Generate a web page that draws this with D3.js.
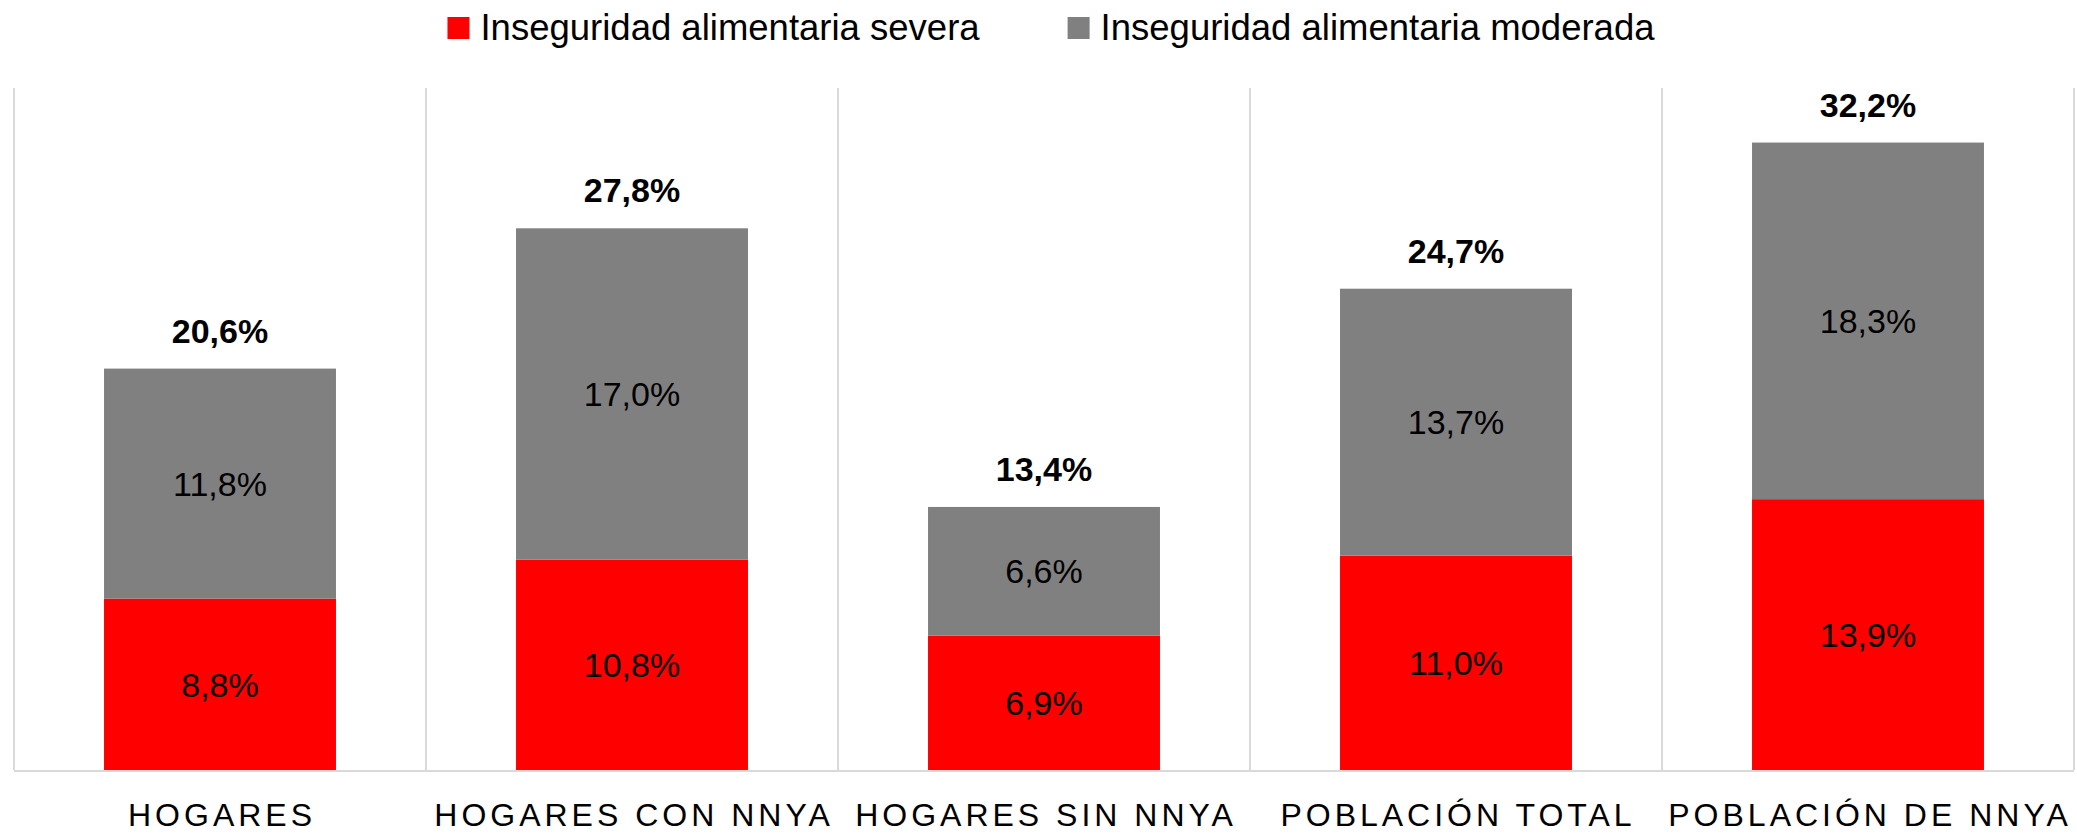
<!DOCTYPE html>
<html>
<head>
<meta charset="utf-8">
<script src="https://cdn.jsdelivr.net/npm/d3@7"></script>
<style>
  html, body { margin: 0; padding: 0; background: #fff; }
  svg { display: block; font-family: "Liberation Sans", Arial, sans-serif; }
</style>
</head>
<body>
<div id="chart"></div>
<script>
// data
const categories = ["HOGARES", "HOGARES CON NNYA", "HOGARES SIN NNYA", "POBLACIÓN TOTAL", "POBLACIÓN DE NNYA"];
const severa = [8.8, 10.8, 6.9, 11.0, 13.9];
const moderada = [11.8, 17.0, 6.6, 13.7, 18.3];
const totales = [20.6, 27.8, 13.4, 24.7, 32.2];
const seriesNames = ["Inseguridad alimentaria severa", "Inseguridad alimentaria moderada"];
const seriesColors = ["#ff0000", "#808080"];

const width = 2077, height = 834;
const fmt = v => d3.format(".1f")(v).replace(".", ",") + "%";

const svg = d3.select("#chart").append("svg")
  .attr("width", width)
  .attr("height", height);

// scales
const x = d3.scaleBand()
  .domain(categories)
  .range([14, 2074])
  .paddingInner(0.437)
  .paddingOuter(0.2185);

const y = d3.scaleLinear()
  .domain([0, 35])
  .range([770, 88]);

const step = x.step();
const x0 = x.range()[0];

// vertical separators between categories
svg.append("g")
  .selectAll("line")
  .data(d3.range(categories.length + 1))
  .enter()
  .append("line")
  .attr("x1", i => x0 + i * step)
  .attr("x2", i => x0 + i * step)
  .attr("y1", y(35))
  .attr("y2", y(0))
  .style("stroke", "#d9d9d9")
  .style("stroke-width", 2);

// stack the two series
const rows = categories.map((c, i) => ({ cat: c, severa: severa[i], moderada: moderada[i] }));
const stack = d3.stack().keys(["severa", "moderada"])(rows);

const layers = svg.append("g")
  .selectAll("g")
  .data(stack)
  .enter()
  .append("g")
  .style("fill", (d, i) => seriesColors[i]);

layers.selectAll("rect")
  .data(d => d)
  .enter()
  .append("rect")
  .attr("x", d => x(d.data.cat))
  .attr("width", x.bandwidth())
  .attr("y", d => y(d[1]))
  .attr("height", d => y(d[0]) - y(d[1]));

// segment labels
layers.selectAll("text")
  .data(d => d)
  .enter()
  .append("text")
  .attr("x", d => x(d.data.cat) + x.bandwidth() / 2)
  .attr("y", d => (y(d[0]) + y(d[1])) / 2)
  .attr("dy", "0.36em")
  .attr("text-anchor", "middle")
  .style("fill", "#000")
  .style("font-size", "34px")
  .text(d => fmt(d[1] - d[0]));

// totals above bars
svg.append("g")
  .selectAll("text")
  .data(categories)
  .enter()
  .append("text")
  .attr("x", d => x(d) + x.bandwidth() / 2)
  .attr("y", (d, i) => y(severa[i] + moderada[i]) - 26)
  .attr("text-anchor", "middle")
  .style("font-size", "34px")
  .style("font-weight", "bold")
  .text((d, i) => fmt(totales[i]));

// baseline
svg.append("line")
  .attr("x1", x0)
  .attr("x2", x0 + step * categories.length)
  .attr("y1", y(0) + 1)
  .attr("y2", y(0) + 1)
  .style("stroke", "#d9d9d9")
  .style("stroke-width", 2);

// category labels
svg.append("g")
  .selectAll("text")
  .data(categories)
  .enter()
  .append("text")
  .attr("x", d => x(d) + x.bandwidth() / 2 + 2)
  .attr("y", 826)
  .attr("text-anchor", "middle")
  .style("font-size", "32px")
  .style("letter-spacing", "4px")
  .text(d => d);

// legend
const legend = svg.append("g");
const items = legend.selectAll("g")
  .data(seriesNames)
  .enter()
  .append("g");

items.append("rect")
  .attr("width", 22)
  .attr("height", 22)
  .attr("y", 17)
  .style("fill", (d, i) => seriesColors[i]);

items.append("text")
  .attr("x", 33)
  .attr("y", 40)
  .style("font-size", "36.5px")
  .text(d => d);

let lx = 0;
items.each(function() {
  const w = 33 + d3.select(this).select("text").node().getComputedTextLength();
  d3.select(this).attr("transform", `translate(${lx},0)`);
  lx += w + 88;
});
const legendWidth = lx - 88;
legend.attr("transform", `translate(${1051 - legendWidth / 2},0)`);
</script>
</body>
</html>
